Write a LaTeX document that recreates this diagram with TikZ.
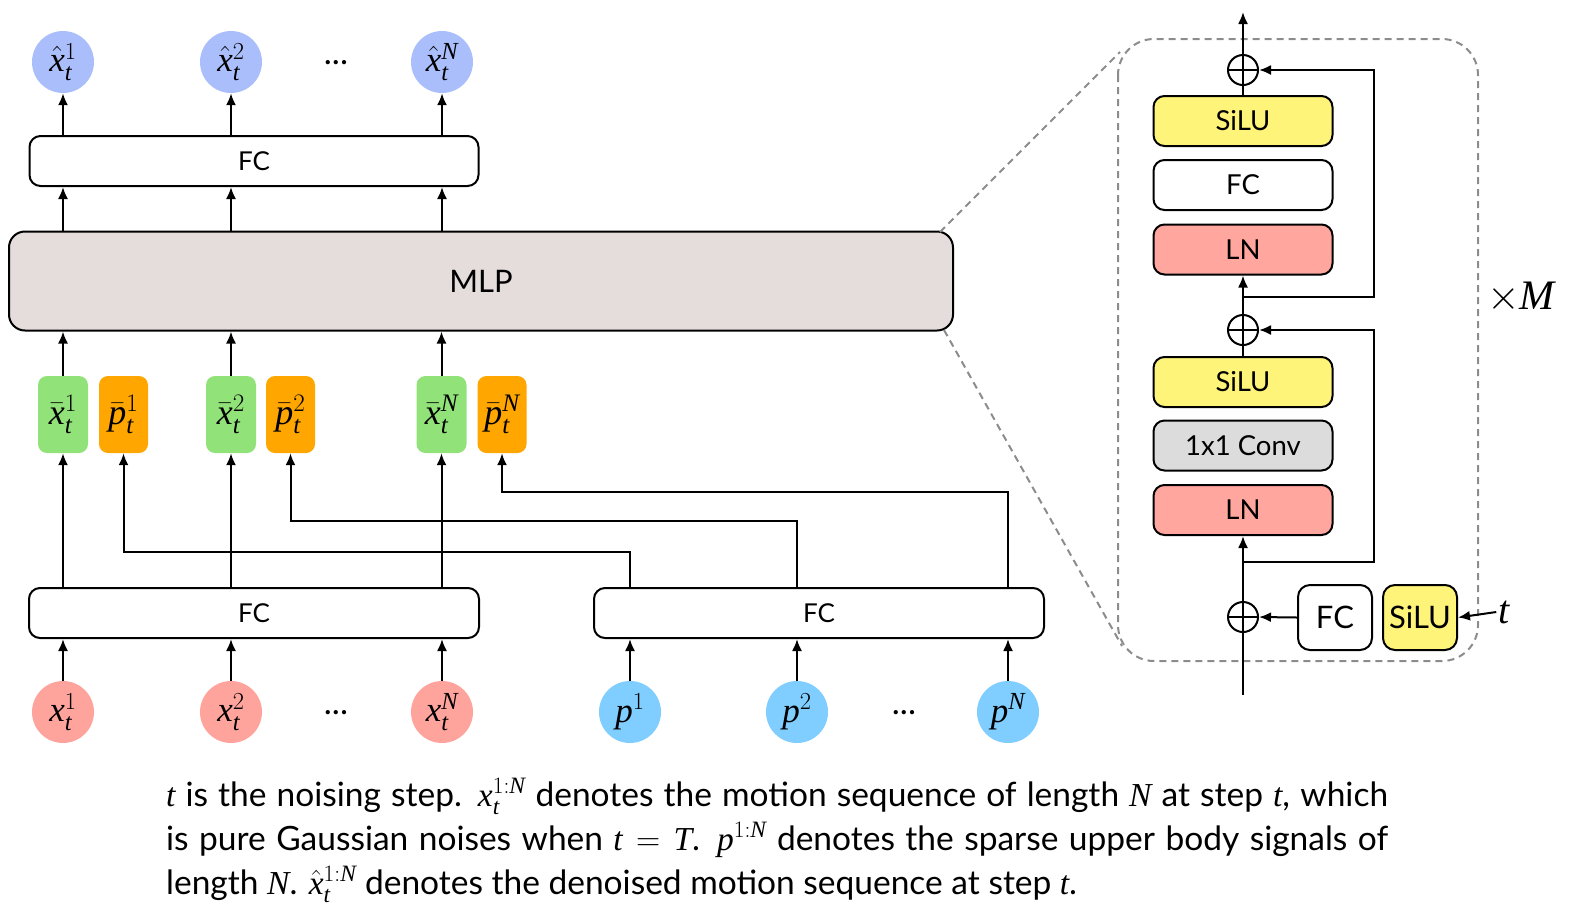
\RequirePackage{fix-cm}
\documentclass[tikz,border=0pt]{standalone}
\usepackage{fontspec}
\setmainfont{Lato}
\newfontfamily\mathletfont{Liberation Serif}[NFSSFamily=libsermath]
\DeclareSymbolFont{letters}{TU}{libsermath}{m}{it}
\usetikzlibrary{arrows.meta}
\definecolor{outblue}{RGB}{170,190,252}
\definecolor{ingreen}{RGB}{146,226,122}
\definecolor{inorange}{RGB}{255,166,0}
\definecolor{xred}{RGB}{255,164,156}
\definecolor{pblue}{RGB}{128,205,255}
\definecolor{mlpfill}{RGB}{229,220,220}
\definecolor{siluy}{RGB}{255,244,122}
\definecolor{lnred}{RGB}{255,166,158}
\definecolor{convg}{RGB}{220,220,220}
\definecolor{dashg}{RGB}{140,140,140}
\begin{document}
\begin{tikzpicture}[x=1pt,y=-1pt,
  arr/.style={-{Latex[length=12pt,width=10pt]}, line width=2pt},
  ln/.style={line width=2pt},
  blk/.style={draw, line width=2pt, rounded corners=11pt, inner sep=0pt, minimum height=50pt, font=\fontsize{26}{30}\selectfont},
  sblk/.style={draw, line width=2pt, rounded corners=11pt, inner sep=0pt, minimum width=179pt, minimum height=50pt, font=\fontsize{27.5}{31}\selectfont},
  tblk/.style={draw, line width=2pt, rounded corners=12pt, inner sep=0pt, minimum width=74pt, minimum height=65pt, font=\fontsize{31}{34}\selectfont},
  dot/.style={circle, inner sep=0pt, minimum size=62pt, font=\fontsize{35}{37}\selectfont},
  tok/.style={rounded corners=9pt, inner sep=0pt, minimum height=77pt, font=\fontsize{36}{38}\selectfont},
  oplus/.style={circle, draw, line width=2pt, minimum size=30pt, inner sep=0pt,
    path picture={\draw[line width=2pt] (path picture bounding box.north) -- (path picture bounding box.south)
      (path picture bounding box.west) -- (path picture bounding box.east);}},
  ell/.style={font=\fontsize{34}{36}\selectfont, inner sep=0pt}
]
\useasboundingbox (0,0) rectangle (1574,922);

% top outputs
\node[dot, fill=outblue] (o1) at (63,62) {$\hat{x}_t^1$};
\node[dot, fill=outblue] (o2) at (231,62) {$\hat{x}_t^2$};
\node[dot, fill=outblue] (o3) at (442,62) {$\hat{x}_t^N$};
\node[ell] (odots) at (336,63) {...};

\node[blk, minimum width=449pt] (fctop) at (254,161) {FC};
\node[draw, line width=2pt, rounded corners=16pt, fill=mlpfill, minimum width=944pt, minimum height=99pt, inner sep=0pt, font=\fontsize{31}{34}\selectfont] (mlp) at (481,281) {MLP};

% tokens
\node[tok, fill=ingreen, minimum width=50pt] (g1) at (63,414.5) {$\bar{x}_t^1$};
\node[tok, fill=inorange, minimum width=49pt] (r1) at (123.5,414.5) {$\bar{p}_t^1$};
\node[tok, fill=ingreen, minimum width=50pt] (g2) at (231,414.5) {$\bar{x}_t^2$};
\node[tok, fill=inorange, minimum width=49pt] (r2) at (290.5,414.5) {$\bar{p}_t^2$};
\node[tok, fill=ingreen, minimum width=50pt] (g3) at (441.5,414.5) {$\bar{x}_t^N$};
\node[tok, fill=inorange, minimum width=49pt] (r3) at (502,414.5) {$\bar{p}_t^N$};

% bottom FCs
\node[blk, minimum width=450pt] (fcl) at (254,613) {FC};
\node[blk, minimum width=450pt] (fcr) at (819,613) {FC};

% inputs
\node[dot, fill=xred] (x1) at (63,712) {$x_t^1$};
\node[dot, fill=xred] (x2) at (231,712) {$x_t^2$};
\node[dot, fill=xred] (x3) at (442,712) {$x_t^N$};
\node[ell] (xdots) at (336,713) {...};
\node[dot, fill=pblue] (p1) at (630,712) {$p^1$};
\node[dot, fill=pblue] (p2) at (797,712) {$p^2$};
\node[dot, fill=pblue] (p3) at (1008,712) {$p^N$};
\node[ell] (pdots) at (904,713) {...};

% arrows up
\foreach \a/\b in {x1/fcl,x2/fcl,x3/fcl,p1/fcr,p2/fcr,p3/fcr}{
  \draw[arr] (\a.north) -- (\a.north |- \b.south);}
\foreach \a in {g1,g2,g3}{
  \draw[arr] (\a.south |- fcl.north) -- (\a.south);
  \draw[arr] (\a.north) -- (\a.north |- mlp.south);}
\foreach \a in {o1,o2,o3}{
  \draw[arr] (\a.south |- mlp.north) -- (\a.south |- fctop.south);
  \draw[arr] (\a.south |- fctop.north) -- (\a.south);}
\draw[arr] (p1.north |- fcr.north) -- (630,552) -| (r1.south);
\draw[arr] (p2.north |- fcr.north) -- (797,521) -| (r2.south);
\draw[arr] (p3.north |- fcr.north) -- (1008,492) -| (r3.south);

% zoom panel
\draw[dashg, line width=2pt, dash pattern=on 7pt off 5pt, rounded corners=36pt] (1118,39) rectangle (1478,661);
\coordinate (mlpne) at (940,232);
\coordinate (mlpse) at (944,330);
\coordinate (zne) at (1120,52);
\coordinate (zse) at (1122,646);
\draw[dashg, line width=2pt, dash pattern=on 7pt off 5pt] (mlpne) -- (zne);
\draw[dashg, line width=2pt, dash pattern=on 7pt off 5pt] (mlpse) -- (zse);

\node[oplus] (op1) at (1243,70) {};
\node[sblk, fill=siluy] (silu1) at (1243,121) {SiLU};
\node[sblk, fill=white] (fcm) at (1243,185) {FC};
\node[sblk, fill=lnred] (ln1) at (1243,249.5) {LN};
\node[oplus] (op2) at (1243,330) {};
\node[sblk, fill=siluy] (silu2) at (1243,382) {SiLU};
\node[sblk, fill=convg] (conv) at (1243,445.5) {1x1 Conv};
\node[sblk, fill=lnred] (ln2) at (1243,510) {LN};
\node[oplus] (op3) at (1243,617) {};
\node[tblk, fill=white] (fcs) at (1335,617.5) {FC};
\node[tblk, fill=siluy] (silus) at (1420,617.5) {SiLU};
\node[font=\fontsize{40}{42}\selectfont, inner sep=2pt] (tin) at (1504,612) {$t$};
\node[font=\fontsize{42}{44}\selectfont] (xm) at (1521,297) {$\times M$};

\coordinate (topout) at (1243,12);
\coordinate (trunkin) at (1243,695);
\coordinate (sk1) at (1243,562);
\coordinate (sk2) at (1243,297);

\draw[arr] (op1.north) -- (topout);
\draw[ln] (silu1.north) -- (op1.south);
\draw[arr] (op2.north) -- (ln1.south);
\draw[ln] (silu2.north) -- (op2.south);
\draw[ln] (trunkin) -- (op3.south);
\draw[arr] (op3.north) -- (ln2.south);
\draw[arr] (sk1) -- (1374,562) -- (1374,330) -- (op2.east);
\draw[arr] (sk2) -- (1374,297) -- (1374,70) -- (op1.east);
\draw[arr] (fcs.west) -- (op3.east);
\draw[arr] (tin.west) -- (silus.east);

% caption
\node[anchor=base west, text width=1222pt, align=justify, inner sep=0pt, font=\fontsize{33.5}{44}\selectfont] (cap) at (166,806)
{$t$ is the noising step. $x_t^{1:N}$ denotes the motion sequence of length $N$ at step $t$, which\linebreak
is pure Gaussian noises when $t=T$. $p^{1:N}$ denotes the sparse upper body signals of\linebreak
length $N$. $\hat{x}_t^{1:N}$ denotes the denoised motion sequence at step $t$.};
\end{tikzpicture}
\end{document}
